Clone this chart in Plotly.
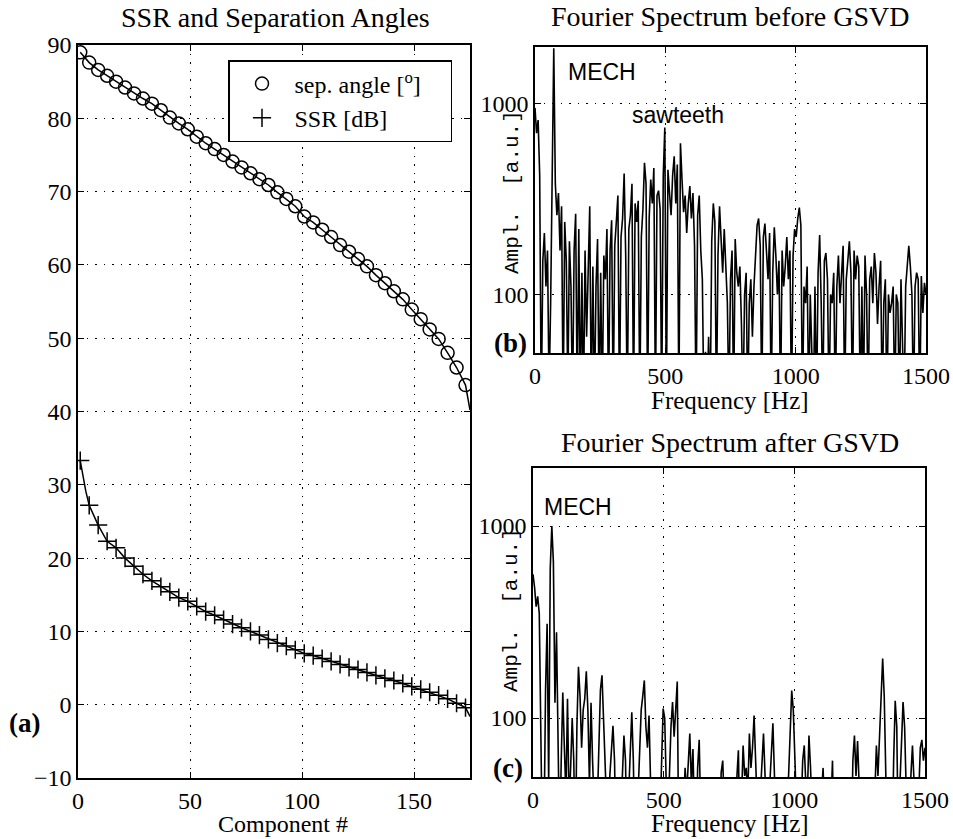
import plotly.graph_objects as go

W, H = 953, 839

# ---- panel (a): separation angle and SSR vs component number
components = [1, 5, 9, 13, 17, 21, 25, 29, 33, 37, 41, 45, 49, 53, 57, 61, 65, 69, 73, 77, 81, 85,
              89, 93, 97, 101, 105, 109, 113, 117, 121, 125, 129, 133, 137, 141, 145, 149, 153,
              157, 161, 165, 169, 173]
sep_angle = [89.0, 87.6, 86.6, 85.8, 85.0, 84.2, 83.4, 82.7, 82.0, 81.1, 80.1, 79.3, 78.5, 77.5,
             76.6, 75.8, 75.0, 74.1, 73.3, 72.5, 71.7, 70.9, 69.9, 69.0, 68.0, 66.6, 65.8, 64.8,
             63.8, 62.7, 61.8, 60.8, 59.8, 58.6, 57.5, 56.4, 55.3, 53.9, 52.6, 51.2, 49.9, 48.0,
             46.0, 43.6]
ssr_db = [33.3, 27.2, 24.5, 22.3, 21.4, 20.0, 18.9, 17.8, 16.9, 16.1, 15.4, 14.6, 14.1, 13.4,
          12.7, 12.2, 11.6, 11.0, 10.5, 10.0, 9.5, 8.9, 8.4, 8.0, 7.5, 7.0, 6.7, 6.3, 5.9, 5.5,
          5.1, 4.8, 4.4, 4.0, 3.6, 3.3, 2.9, 2.5, 2.1, 1.7, 1.3, 0.8, 0.2, -0.4]
# values at the last component (175) where the curves end
last_comp = 175
sep_angle_last = 40.2
ssr_db_last = -1.6
# kink of the SSR curve just after the first component
ssr_kink_comp = 3.5
ssr_kink_db = 29.1

# ---- panels (b), (c): Fourier spectra, 6 Hz bins
freq = list(range(0, 1501, 6))
amp_before = [
    950, 700, 820, 420, 25, 150, 210, 110, 170, 30,
    90, 600, 1950, 380, 260, 340, 170, 290, 25, 240,
    150, 30, 190, 110, 25, 170, 265, 25, 220, 25,
    130, 25, 170, 60, 150, 290, 25, 140, 25, 110,
    195, 25, 130, 25, 160, 120, 220, 25, 170, 245,
    25, 180, 240, 330, 25, 200, 250, 430, 160, 25,
    220, 260, 380, 25, 300, 240, 310, 25, 200, 280,
    490, 380, 25, 250, 400, 300, 460, 25, 330, 350,
    280, 25, 420, 750, 25, 450, 340, 260, 420, 530,
    300, 480, 25, 620, 400, 270, 330, 210, 300, 370,
    250, 340, 180, 25, 260, 330, 170, 120, 25, 50,
    25, 60, 25, 190, 300, 240, 25, 160, 290, 200,
    130, 220, 150, 90, 25, 120, 170, 25, 195, 130,
    110, 140, 70, 25, 100, 130, 25, 90, 120, 60,
    110, 150, 230, 250, 180, 25, 200, 235, 160, 120,
    210, 25, 130, 225, 160, 100, 150, 25, 170, 110,
    140, 200, 120, 170, 25, 160, 220, 200, 250, 285,
    230, 25, 110, 90, 140, 25, 100, 60, 25, 110,
    25, 130, 205, 90, 25, 150, 165, 120, 25, 100,
    90, 130, 25, 110, 160, 90, 140, 180, 25, 120,
    150, 190, 130, 25, 170, 120, 160, 140, 25, 110,
    25, 160, 100, 25, 120, 140, 90, 165, 130, 70,
    110, 150, 25, 90, 120, 25, 100, 80, 90, 110,
    25, 100, 90, 25, 120, 70, 25, 110, 150, 180,
    140, 100, 25, 110, 130, 120, 25, 125, 80, 115,
    100,
]
amp_after = [
    560, 480, 380, 430, 350, 80, 20, 25, 140, 310,
    45, 600, 1000, 650, 120, 280, 90, 20, 60, 136,
    70, 40, 126, 35, 55, 100, 60, 20, 90, 185,
    130, 70, 110, 126, 175, 110, 45, 120, 60, 20,
    20, 35, 70, 140, 167, 90, 40, 25, 20, 50,
    70, 91, 60, 20, 25, 45, 35, 50, 81, 60,
    20, 40, 75, 107, 60, 20, 25, 40, 70, 110,
    130, 157, 90, 70, 103, 60, 20, 40, 30, 35,
    40, 30, 60, 112, 100, 40, 20, 50, 90, 121,
    80, 110, 155, 20, 30, 45, 35, 55, 40, 60,
    83, 45, 69, 30, 20, 55, 77, 30, 20, 25,
    20, 20, 20, 20, 20, 20, 20, 20, 20, 20,
    52, 60, 35, 20, 20, 20, 20, 20, 20, 35,
    50, 68, 20, 40, 72, 50, 55, 40, 83, 55,
    70, 103, 40, 20, 20, 40, 60, 83, 50, 30,
    20, 45, 70, 94, 50, 20, 25, 20, 20, 20,
    20, 35, 45, 50, 80, 139, 110, 60, 20, 20,
    20, 35, 60, 72, 45, 40, 81, 55, 20, 20,
    20, 20, 20, 20, 40, 55, 30, 20, 20, 20,
    40, 60, 20, 20, 20, 20, 20, 20, 20, 20,
    20, 20, 20, 20, 60, 81, 50, 76, 45, 20,
    20, 20, 20, 20, 20, 20, 20, 20, 40, 72,
    50, 83, 150, 204, 130, 20, 20, 20, 20, 20,
    60, 123, 90, 20, 45, 80, 121, 90, 20, 20,
    20, 50, 72, 40, 20, 20, 40, 70, 77, 60,
    70,
]

SERIF = "Liberation Serif"
SANS = "Liberation Sans"
MONO = "Liberation Mono"


def px(x):
    return x / W


def py(y):
    return 1 - y / H


fig = go.Figure()

# sep. angle curve
fig.add_trace(go.Scatter(x=components + [last_comp], y=sep_angle + [sep_angle_last],
                         mode="lines", line=dict(color="black", width=1.5),
                         showlegend=False, xaxis="x", yaxis="y"))
fig.add_trace(go.Scatter(x=components, y=sep_angle, mode="markers",
                         marker=dict(symbol="circle-open", size=13, color="black",
                                     line=dict(width=1.5)),
                         name="sep. angle [<sup>o</sup>]&nbsp;&nbsp;&nbsp;&nbsp;",
                         xaxis="x", yaxis="y"))
# SSR curve
fig.add_trace(go.Scatter(x=[components[0], ssr_kink_comp] + components[1:] + [last_comp],
                         y=[ssr_db[0], ssr_kink_db] + ssr_db[1:] + [ssr_db_last],
                         mode="lines", line=dict(color="black", width=1.5),
                         showlegend=False, xaxis="x", yaxis="y"))
fig.add_trace(go.Scatter(x=components, y=ssr_db, mode="markers",
                         marker=dict(symbol="cross-thin-open", size=13, color="black",
                                     line=dict(width=1.5, color="black")),
                         name="SSR [dB]", xaxis="x", yaxis="y"))

# spectra
fig.add_trace(go.Scatter(x=freq, y=amp_before, mode="lines",
                         line=dict(color="black", width=1.6),
                         showlegend=False, xaxis="x2", yaxis="y2"))
fig.add_trace(go.Scatter(x=freq, y=amp_after, mode="lines",
                         line=dict(color="black", width=1.6),
                         showlegend=False, xaxis="x3", yaxis="y3"))

axis_common = dict(showline=True, linecolor="black", linewidth=1.5, mirror="ticks",
                   ticks="inside", ticklen=6, tickcolor="black", automargin=False,
                   showgrid=True, gridcolor="black", griddash="1.5px,7px", gridwidth=1.2,
                   zeroline=False, tickfont=dict(family=SERIF, size=24, color="black"))

fig.update_layout(
    width=W, height=H,
    margin=dict(l=0, r=0, t=0, b=0, autoexpand=False),
    paper_bgcolor="white", plot_bgcolor="white",
    xaxis=dict(axis_common, domain=[px(78), px(470)], range=[0, 175],
               tickvals=[0, 50, 100, 150], anchor="y"),
    yaxis=dict(axis_common, domain=[py(778), py(45)], range=[-10, 90], dtick=10,
               anchor="x"),
    xaxis2=dict(axis_common, domain=[px(535), px(926)], range=[0, 1500],
                tickvals=[0, 500, 1000, 1500], anchor="y2"),
    yaxis2=dict(axis_common, domain=[py(353), py(47)], type="log", range=[1.693, 3.297],
                tickvals=[100, 1000], ticktext=["100", "1000"], anchor="x2"),
    xaxis3=dict(axis_common, domain=[px(533), px(925)], range=[0, 1500],
                tickvals=[0, 500, 1000, 1500], anchor="y3"),
    yaxis3=dict(axis_common, domain=[py(777), py(468)], type="log", range=[1.693, 3.302],
                tickvals=[100, 1000], ticktext=["100", "1000"], anchor="x3"),
    legend=dict(x=px(228), y=py(60), xanchor="left", yanchor="top",
                bordercolor="black", borderwidth=1.5, bgcolor="white",
                font=dict(family=SERIF, size=24, color="black"),
                itemwidth=55, tracegroupgap=0),
)

notes = [
    ("SSR and Separation Angles", 275, 18, SERIF, 28, 0),
    ("Fourier Spectrum before GSVD", 730, 17, SERIF, 28, 0),
    ("Fourier Spectrum after GSVD", 730, 442, SERIF, 28, 0),
    ("Component #", 283, 824, SERIF, 24, 0),
    ("Frequency [Hz]", 730, 401, SERIF, 25, 0),
    ("Frequency [Hz]", 730, 823, SERIF, 25, 0),
    ("Ampl.  [a.u.]", 512, 192, MONO, 21, -90),
    ("Ampl.  [a.u.]", 511, 610, MONO, 21, -90),
    ("MECH", 602, 72, SANS, 23, 0),
    ("sawteeth", 678, 115, SANS, 23, 0),
    ("MECH", 578, 507, SANS, 23, 0),
    ("<b>(a)</b>", 24, 723, SERIF, 27, 0),
    ("<b>(b)</b>", 510, 343, SERIF, 27, 0),
    ("<b>(c)</b>", 508, 768, SERIF, 27, 0),
]
for text, x, y, fam, size, ang in notes:
    fig.add_annotation(text=text, x=px(x), y=py(y), xref="paper", yref="paper",
                       xanchor="center", yanchor="middle", showarrow=False,
                       textangle=ang, font=dict(family=fam, size=size, color="black"))

# the page's default body margin would push the 953x839 figure out of the window
fig.write_html("out.html", config={"displayModeBar": False},
               post_script="document.body.style.margin = '0';")
